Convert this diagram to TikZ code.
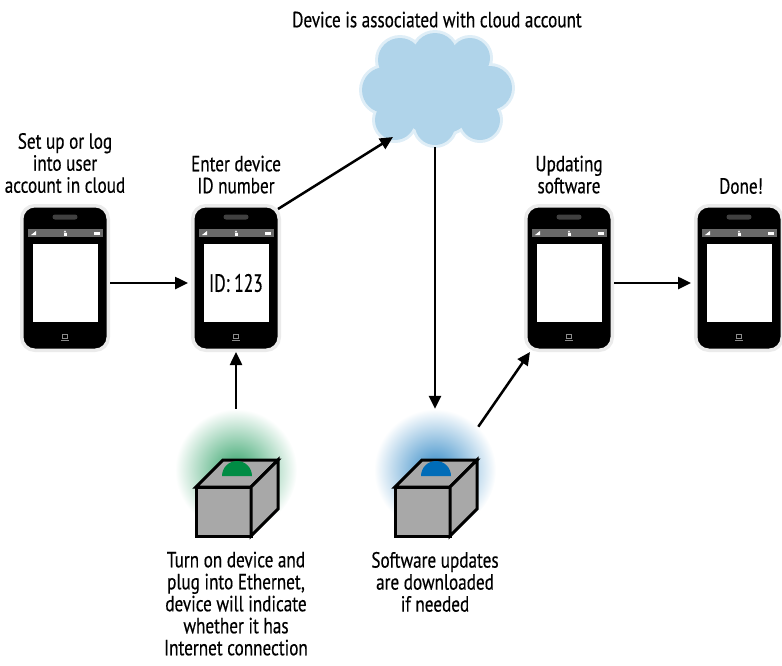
\documentclass[tikz,border=0pt]{standalone}
\usepackage{fontspec}
\setmainfont{PT Sans}[FakeStretch=0.78, FakeBold=0.4]
\usetikzlibrary{arrows.meta,positioning}

\definecolor{cloudblue}{RGB}{176,212,234}
\definecolor{ledgreen}{RGB}{0,140,68}
\definecolor{ledblue}{RGB}{0,108,184}
\definecolor{boxgray}{RGB}{168,168,168}
\definecolor{bargray}{RGB}{105,105,105}

\tikzset{
  % a handset: frame, speaker, status bar, screen, home button
  pics/handset/.style={code={
    \node[draw=black!8, line width=3.5pt, fill=black, rounded corners=13pt,
          minimum width=86.5pt, minimum height=144.5pt] (-body) at (0,0) {};
    \fill[black!75, rounded corners=2.5pt] (-12.5,-63.5) rectangle (12.5,-58.5);
    \node[fill=bargray, minimum width=75pt, minimum height=8pt, inner sep=0pt] (-bar) at (0,-45) {};
    \fill[white] (-34,-43) -- (-29,-43) -- (-29,-47) -- cycle;
    \fill[white] (-1.5,-42.5) rectangle (1.5,-45.5);
    \draw[white, line width=0.6pt] (-1,-45.5) arc (180:360:1 and 1.5);
    \fill[white] (29,-43.5) rectangle (35,-46.5);
    \node[fill=white, minimum width=65pt, minimum height=78pt, inner sep=0pt] (-screen) at (0,5) {};
    \draw[black!45, line width=0.7pt] (-2.5,56) rectangle (2.5,60);
    \draw[black!45, line width=0.9pt] (-4,62) -- (4,62);
  }},
  % a network unit with its status light and glow
  pics/unit/.style={code={
    \node[circle, minimum size=122pt, inner sep=0pt, shade, shading=radial,
          inner color=#1!80, outer color=white] (-glow) at (0,0) {};
    \filldraw[fill=boxgray, line width=3pt] (-40,17) rectangle (15,66);
    \filldraw[fill=boxgray, line width=3pt] (-40,17) -- (-13,-10) -- (42,-10) -- (15,17) -- cycle;
    \fill[#1] (-14,6) arc (180:360:15);
    \filldraw[fill=boxgray, line width=3pt] (15,17) -- (42,-10) -- (42,39) -- (15,66) -- cycle;
  }}
}

\begin{document}
\begin{tikzpicture}[x=1pt, y=-1pt]
  \tikzstyle{caption}=[align=center, font=\fontsize{22}{22}\selectfont, inner sep=0pt]
  \tikzstyle{flow}=[line width=2.5pt, -{Triangle[length=13pt,width=12pt]}]
  \useasboundingbox (0,0) rectangle (782,665);

  % cloud, with a soft rim
  \begin{scope}[transparency group, opacity=0.4]
    \foreach \cx/\cy/\r in {437/90/45, 435/55/22, 400/60/22, 470/58/20, 385/90/23, 490/88/22, 395/120/20, 435/125/20, 480/120/20}
      \fill[cloudblue] (\cx,\cy) circle (\r+3);
  \end{scope}
  \foreach \cx/\cy/\r in {437/90/45, 435/55/22, 400/60/22, 470/58/20, 385/90/23, 490/88/22, 395/120/20, 435/125/20, 480/120/20}
    \fill[cloudblue] (\cx,\cy) circle (\r);
  \node (Cloud) [minimum width=150pt, minimum height=114pt] at (435,90) {};
  \coordinate (CloudIn) at (393,137);
  \node[caption] (Title) at (437,19.6) {Device is associated with cloud account};

  % handsets
  \pic (Setup) at (65,278) {handset};
  \pic (Enter) at (236,278) {handset};
  \pic (Update) at (569,278) {handset};
  \pic (Done) at (739,278) {handset};
  \node[caption, font=\fontsize{25}{25}\selectfont\addfontfeature{FakeStretch=0.7}] (ID) at (Enter-screen) {ID: 123};

  \node[caption] (SetupText) at (65,163) {Set up or log\\into user\\account in cloud};
  \node[caption] (EnterText) at (236,174.6) {Enter device\\ID number};
  \node[caption] (UpdateText) at (569,174.6) {Updating\\software};
  \node[caption] (DoneText) at (741,186) {Done!};

  % units
  \pic (Plug) at (236,470) {unit=ledgreen};
  \pic (Fetch) at (435,470) {unit=ledblue};
  \node[caption] (PlugText) at (236,603.6) {Turn on device and\\plug into Ethernet,\\device will indicate\\whether it has\\Internet connection};
  \node[caption] (FetchText) at (435,581.9) {Software updates\\are downloaded\\if needed};

  % arrows
  \draw[flow, shorten >=3pt] (Setup-body.east |- Setup-screen.center) -- (Enter-body.west |- Setup-screen.center);
  \draw[flow] ([shift={(-3,5)}]Enter-body.north east) -- (CloudIn);
  \draw[flow] (Cloud.south) -- (Plug-glow.north -| Cloud.south);
  \draw[flow] (Plug-glow.north) -- (Enter-body.south);
  \draw[flow] (Fetch-glow.45) -- ([xshift=6pt]Update-body.south west);
  \draw[flow, shorten >=3pt] (Update-body.east |- Update-screen.center) -- (Done-body.west |- Update-screen.center);
\end{tikzpicture}
\end{document}
